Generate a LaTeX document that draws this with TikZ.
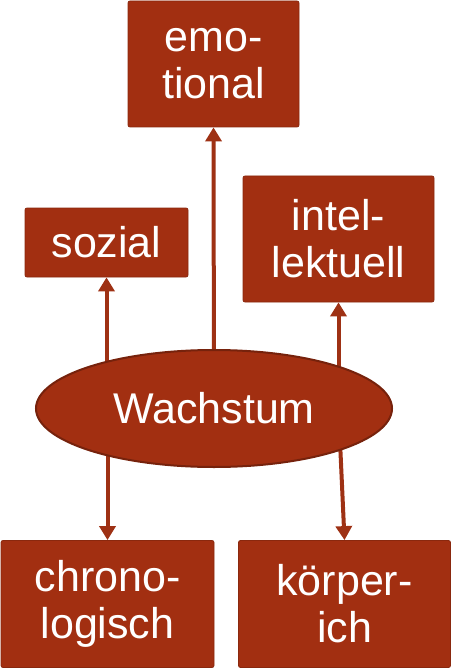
\documentclass[tikz,border=0pt]{standalone}
\usepackage{fontspec}
\setmainfont{Liberation Sans}
\usetikzlibrary{arrows.meta,shapes.geometric,backgrounds}
\definecolor{rust}{RGB}{162,47,17}
\definecolor{rustdark}{RGB}{118,34,12}
\definecolor{arrowc}{RGB}{158,49,20}
\tikzset{
  box/.style={rectangle, rounded corners=2pt, fill=rust, draw=rust!85!black, line width=0.8pt,
    text=white, align=center, inner sep=0pt,
    font=\fontsize{43pt}{47pt}\selectfont},
  ellnode/.style={ellipse, fill=rust, draw=rustdark, line width=2pt, text=white,
    inner sep=0pt, font=\fontsize{43pt}{47pt}\selectfont},
  arr/.style={draw=arrowc, line width=4pt, -{Triangle[width=16pt,length=14pt]}}
}
\begin{document}
\begin{tikzpicture}[x=1pt,y=-1pt]
\useasboundingbox (0,0) rectangle (451,668);
\node[box, minimum width=171pt, minimum height=126pt] (emo) at (213.5,64) {emo-\\tional};
\node[box, minimum width=163pt, minimum height=69pt] (soz) at (106.5,242.5) {sozial};
\node[box, minimum width=191pt, minimum height=126pt] (int) at (338.5,239) {intel-\\lektuell};
\node[ellnode, minimum width=356pt, minimum height=117pt] (ell) at (214,408.5) {Wachstum};
\node[box, minimum width=213pt, minimum height=127pt] (chr) at (107.5,604) {chrono-\\logisch};
\node[box, minimum width=212pt, minimum height=127pt] (kor) at (344.5,604) {körper-\\ich};
\begin{scope}[on background layer]
\draw[arr] (ell.center) -- (emo.south);
\draw[arr] (soz.south |- ell.center) -- (soz.south);
\draw[arr] (int.south |- ell.center) -- (int.south);
\draw[arr] (chr.north |- ell.center) -- (chr.north);
\draw[arr] (int.south |- ell.center) -- (kor.north);
\end{scope}
\end{tikzpicture}
\end{document}
